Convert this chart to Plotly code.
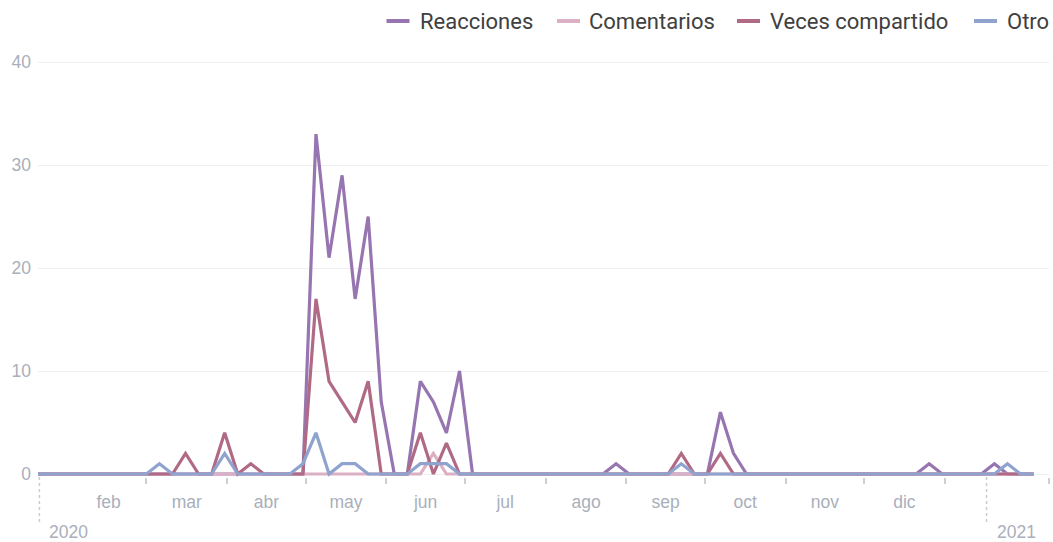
import pandas as pd
import plotly.graph_objects as go

# Interacciones registradas cada 5 días
fechas = pd.date_range("2020-01-16", periods=78, freq="5D")

reacciones = [
    0, 0, 0, 0, 0, 0, 0, 0, 0, 0,
    0, 0, 0, 0, 0, 0, 0, 0, 0, 0,
    0, 0, 33, 21, 29, 17, 25, 7, 0, 0,
    9, 7, 4, 10, 0, 0, 0, 0, 0, 0,
    0, 0, 0, 0, 0, 1, 0, 0, 0, 0,
    0, 0, 0, 6, 2, 0, 0, 0, 0, 0,
    0, 0, 0, 0, 0, 0, 0, 0, 0, 1,
    0, 0, 0, 0, 1, 0, 0, 0,
]
comentarios = [
    0, 0, 0, 0, 0, 0, 0, 0, 0, 0,
    0, 0, 0, 0, 0, 0, 0, 0, 0, 0,
    0, 0, 0, 0, 0, 0, 0, 0, 0, 0,
    0, 2, 0, 0, 0, 0, 0, 0, 0, 0,
    0, 0, 0, 0, 0, 0, 0, 0, 0, 0,
    0, 0, 0, 0, 0, 0, 0, 0, 0, 0,
    0, 0, 0, 0, 0, 0, 0, 0, 0, 0,
    0, 0, 0, 0, 0, 0, 0, 0,
]
veces_compartido = [
    0, 0, 0, 0, 0, 0, 0, 0, 0, 0,
    0, 0, 2, 0, 0, 4, 0, 1, 0, 0,
    0, 0, 17, 9, 7, 5, 9, 0, 0, 0,
    4, 0, 3, 0, 0, 0, 0, 0, 0, 0,
    0, 0, 0, 0, 0, 0, 0, 0, 0, 0,
    2, 0, 0, 2, 0, 0, 0, 0, 0, 0,
    0, 0, 0, 0, 0, 0, 0, 0, 0, 0,
    0, 0, 0, 0, 0, 0, 0, 0,
]
otro = [
    0, 0, 0, 0, 0, 0, 0, 0, 0, 0,
    1, 0, 0, 0, 0, 2, 0, 0, 0, 0,
    0, 1, 4, 0, 1, 1, 0, 0, 0, 0,
    1, 1, 1, 0, 0, 0, 0, 0, 0, 0,
    0, 0, 0, 0, 0, 0, 0, 0, 0, 0,
    1, 0, 0, 0, 0, 0, 0, 0, 0, 0,
    0, 0, 0, 0, 0, 0, 0, 0, 0, 0,
    0, 0, 0, 0, 0, 1, 0, 0,
]

nombres = ["Reacciones", "Comentarios", "Veces compartido", "Otro"]
colores = ["#9775b1", "#dcb0c4", "#b06a86", "#8fa3cf"]
valores = [reacciones, comentarios, veces_compartido, otro]

meses = ["feb", "mar", "abr", "may", "jun", "jul", "ago", "sep", "oct", "nov", "dic"]
y_ticks = [0, 10, 20, 30, 40]
anios = ["2020", "2021"]
inicio_anio = ["2020-01-20", "2021-01-17"]

W, H = 1053, 542
M_L, M_R, M_T, M_B = 38, 4, 59, 65
plot_w = W - M_L - M_R
plot_h = H - M_T - M_B

x_rango = ["2020-01-19 11:00", "2021-02-09 22:20"]

# month boundaries and their centres (labels sit in the middle of each month)
inicios = pd.date_range("2020-02-01", "2021-01-01", freq="MS")
centros = [inicios[i] + (inicios[i + 1] - inicios[i]) / 2 for i in range(len(inicios) - 1)]
marcas = list(inicios[1:]) + [pd.Timestamp(x_rango[1]) - pd.Timedelta(hours=1)]

gris_txt = "#a9afbb"
fuente_eje = "Liberation Sans"


def py(px):
    """pixel row -> paper y"""
    return (H - M_B - px) / plot_h


def pxx(px):
    """pixel column -> paper x"""
    return (px - M_L) / plot_w


fig = go.Figure()
for nombre, serie, color in zip(nombres, valores, colores):
    fig.add_trace(go.Scatter(
        x=fechas, y=serie, name=nombre, mode="lines",
        line=dict(color=color, width=3.2),
        showlegend=False,
        hovertemplate="%{x|%d/%m/%Y}: %{y}<extra>" + nombre + "</extra>",
    ))

# legend row along the top
leyenda_simbolo = [386.5, 557, 737, 974]
leyenda_texto = [421, 590, 771, 1008]
leyenda_y = 21
shapes = []
annotations = []
for nombre, color, xs, xt in zip(nombres, colores, leyenda_simbolo, leyenda_texto):
    shapes.append(dict(type="line", xref="paper", yref="paper",
                       x0=pxx(xs), x1=pxx(xs + 23), y0=py(leyenda_y), y1=py(leyenda_y),
                       line=dict(color=color, width=4)))
    annotations.append(dict(text=nombre, xref="paper", yref="paper",
                            x=pxx(xt), xshift=-3, y=py(leyenda_y),
                            xanchor="left", yanchor="middle", showarrow=False,
                            font=dict(family="Roboto", size=22, color="#404040")))

# year markers under the axis
for anio, fecha in zip(anios, inicio_anio):
    shapes.append(dict(type="line", xref="x", yref="paper",
                       x0=fecha, x1=fecha, y0=py(477), y1=py(523),
                       line=dict(color="#cccccc", width=1.5, dash="3px,3px")))
    annotations.append(dict(text=anio, xref="x", yref="paper", x=fecha, xshift=8,
                            y=py(531.5), xanchor="left", yanchor="middle", showarrow=False,
                            font=dict(family=fuente_eje, size=17.5, color=gris_txt)))

fig.update_layout(
    width=W, height=H,
    margin=dict(l=M_L, r=M_R, t=M_T, b=M_B, pad=0),
    paper_bgcolor="white", plot_bgcolor="white",
    showlegend=False,
    shapes=shapes, annotations=annotations,
    xaxis=dict(
        type="date", range=x_rango,
        tickmode="array", tickvals=centros, ticktext=meses,
        ticks="", showgrid=False, showline=False, zeroline=False,
        tickfont=dict(family=fuente_eje, size=17.5, color=gris_txt),
        ticklabelstandoff=12,
        minor=dict(tickmode="array", tickvals=marcas, ticks="outside",
                   ticklen=6, tickwidth=1.5, tickcolor="#cfcfcf", showgrid=False),
    ),
    yaxis=dict(
        range=[-0.291, 40.291], tickmode="array", tickvals=y_ticks,
        ticks="", showline=False, zeroline=False,
        showgrid=True, gridcolor="#efefef", gridwidth=1,
        tickfont=dict(family=fuente_eje, size=17.5, color=gris_txt),
        ticklabelstandoff=6,
    ),
)

fig.write_html("out.html")
